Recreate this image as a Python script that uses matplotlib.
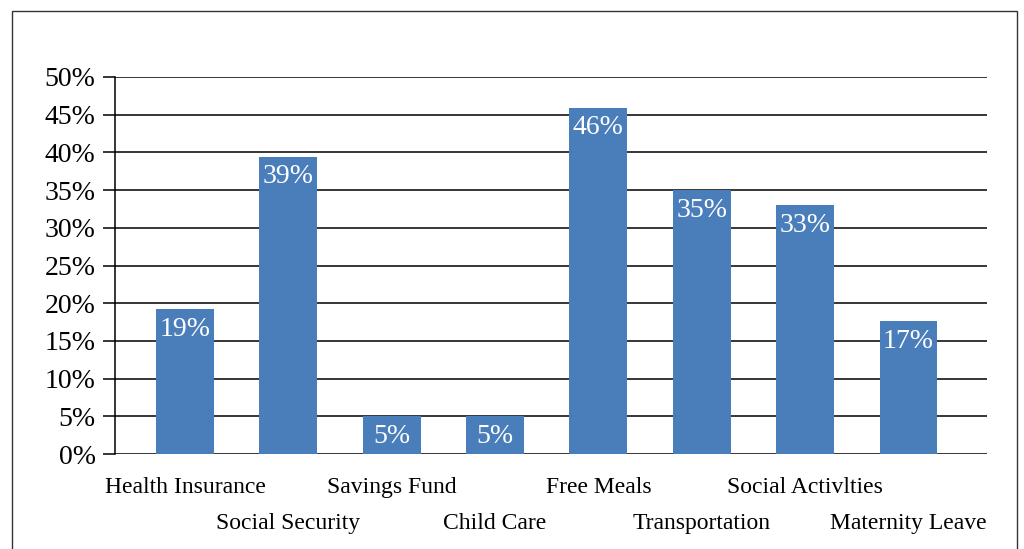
import matplotlib.pyplot as plt
from matplotlib.patches import Rectangle

### Data
categories = ["Health Insurance", "Social Security", "Savings Fund", "Child Care",
              "Free Meals", "Transportation", "Social Activlties", "Maternity Leave"]
values = [19.2, 39.4, 5.0, 5.0, 45.9, 35.0, 33.0, 17.6]
bar_labels = ["19%", "39%", "5%", "5%", "46%", "35%", "33%", "17%"]
yticks = [0, 5, 10, 15, 20, 25, 30, 35, 40, 45, 50]

plt.rcParams['font.family'] = ['Liberation Serif', 'DejaVu Serif']

fig = plt.figure(figsize=(10.24, 5.49), dpi=100)
fig.patches.append(Rectangle((12 / 1024, -0.1), (1017 - 12) / 1024, 1.1 - 11 / 549,
                             transform=fig.transFigure, fill=False,
                             edgecolor="#333333", linewidth=1.0))

ax = fig.add_axes([115 / 1024, 1 - 454 / 549, (987 - 115) / 1024, (454 - 77) / 549])

x = list(range(len(categories)))
bars = ax.bar(x, values, width=0.56, color="#4A7EBB", zorder=3)

for i in range(len(values)):
    ax.text(x[i], values[i] - 1.0, bar_labels[i], ha="center", va="top",
            color="white", fontsize=20, zorder=4)

ax.set_ylim(0, 50)
ax.set_xlim(-0.678, 7.76)
ax.set_yticks(yticks)
ax.set_yticklabels([str(t) + "%" for t in yticks], fontsize=20)
ax.yaxis.grid(True, color="black", linewidth=1.1, zorder=0)
ax.tick_params(axis="y", length=9, width=1.1, color="black", pad=5)
ax.set_xticks([])

for s in ["top", "right", "bottom"]:
    ax.spines[s].set_visible(False)
ax.spines["left"].set_linewidth(1.1)

### staggered category labels
for i in range(len(categories)):
    if i % 2 == 0:
        yoff = -0.09
    else:
        yoff = -0.185
    ax.text(x[i], yoff, categories[i], ha="center", va="center", fontsize=17,
            transform=ax.get_xaxis_transform())

fig.savefig("out.png", dpi=100)
